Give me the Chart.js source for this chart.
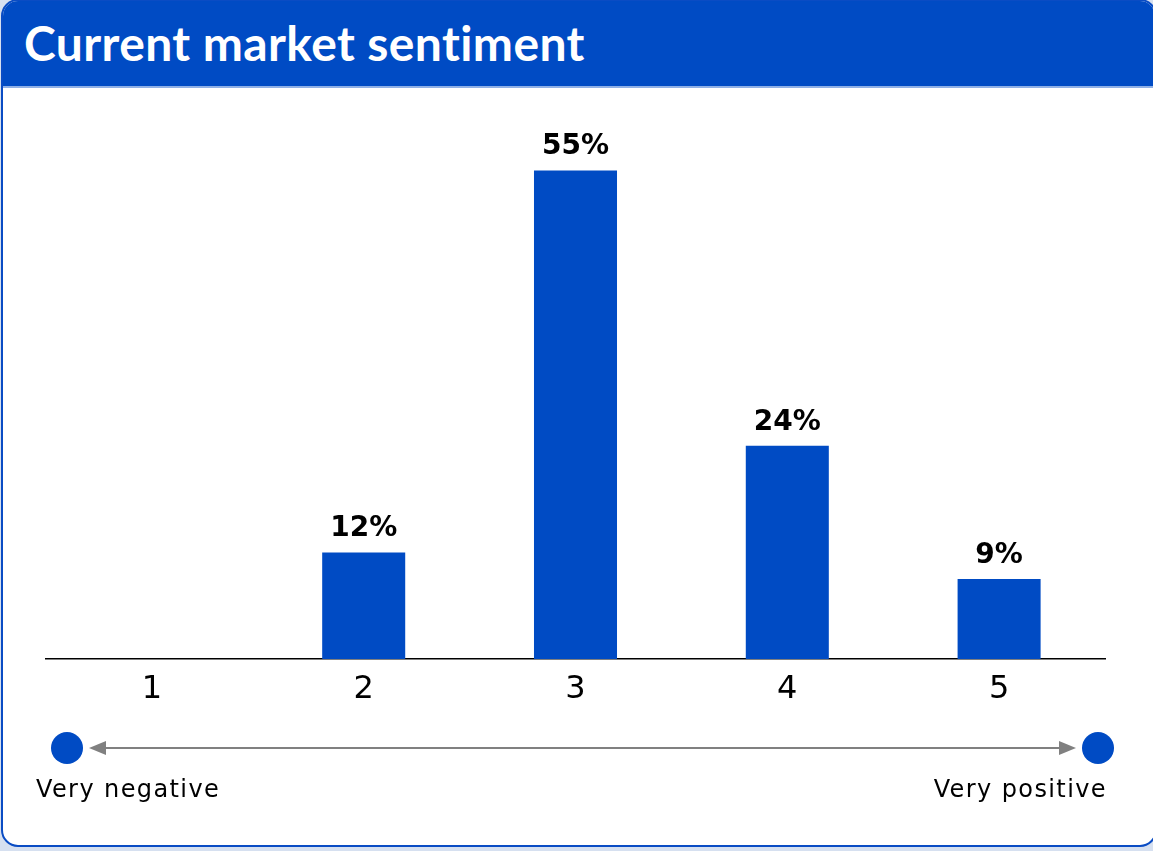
<!DOCTYPE html>
<html>
<head>
<meta charset="utf-8">
<script src="https://cdn.jsdelivr.net/npm/chart.js@4.4.1/dist/chart.umd.min.js"></script>
<style>
  html, body { margin: 0; padding: 0; background: #d6e0f0; }
  body { width: 1153px; height: 851px; position: relative; overflow: hidden; }
  .card {
    position: absolute; left: 1px; top: -1px; width: 1156px; height: 848px;
    box-sizing: border-box; border: 2px solid #0a4cc4; border-radius: 17px;
    background: #ffffff; overflow: hidden;
  }
  .card-head {
    position: absolute; left: 0; top: 0; right: 0; height: 87px;
    background: #004bc4; border-bottom: 2px solid #8fb0e6; box-sizing: border-box;
  }
  .card-head h1 {
    margin: 0; position: absolute; left: 21px; top: 18px;
    font-family: Lato, "Open Sans", sans-serif; font-weight: 700; font-size: 48px;
    color: #ffffff; letter-spacing: 0.4px; line-height: 1;
  }
  #wrap { position: absolute; left: 0; top: 0; width: 1153px; height: 851px; }
</style>
</head>
<body>
<div class="card"><div class="card-head"><h1>Current market sentiment</h1></div></div>
<div id="wrap"><canvas id="chart" width="1153" height="851"></canvas></div>
<script>
// Sentiment scale, 1 = very negative ... 5 = very positive
const categories = ['1', '2', '3', '4', '5'];
const shares = [0, 12, 55, 24, 9];          // % of respondents
const scaleEnds = ['Very negative', 'Very positive'];

const BLUE = '#004bc4';

// Percentage labels above each bar
const valueLabels = {
  id: 'valueLabels',
  afterDatasetsDraw(chart) {
    const { ctx } = chart;
    const meta = chart.getDatasetMeta(0);
    ctx.save();
    ctx.font = 'bold 28px "DejaVu Sans"';
    ctx.fillStyle = '#000';
    ctx.textAlign = 'center';
    ctx.textBaseline = 'alphabetic';
    meta.data.forEach((bar, i) => {
      const v = shares[i];
      if (!v) return;
      ctx.fillText(v + '%', bar.x, bar.y - 16);
    });
    ctx.restore();
  }
};

// Negative-to-positive arrow under the axis
const sentimentScale = {
  id: 'sentimentScale',
  afterDraw(chart) {
    const { ctx, chartArea } = chart;
    const y = 748;
    const lx = chartArea.left + 21, rx = chartArea.right - 7;
    ctx.save();
    ctx.strokeStyle = '#808080';
    ctx.fillStyle = '#808080';
    ctx.lineWidth = 2;
    ctx.beginPath();
    ctx.moveTo(lx + 30, y); ctx.lineTo(rx - 30, y);
    ctx.stroke();
    // arrow heads
    ctx.beginPath();
    ctx.moveTo(lx + 22, y); ctx.lineTo(lx + 39, y - 7); ctx.lineTo(lx + 39, y + 7); ctx.closePath();
    ctx.fill();
    ctx.beginPath();
    ctx.moveTo(rx - 22, y); ctx.lineTo(rx - 39, y - 7); ctx.lineTo(rx - 39, y + 7); ctx.closePath();
    ctx.fill();
    // end dots
    ctx.fillStyle = BLUE;
    ctx.beginPath(); ctx.arc(lx, y, 16, 0, Math.PI * 2); ctx.fill();
    ctx.beginPath(); ctx.arc(rx, y, 16, 0, Math.PI * 2); ctx.fill();
    // end captions
    ctx.fillStyle = '#000';
    ctx.font = '24px "DejaVu Sans"';
    if ('letterSpacing' in ctx) ctx.letterSpacing = '1.4px';
    ctx.textBaseline = 'alphabetic';
    ctx.textAlign = 'left';
    ctx.fillText(scaleEnds[0], 36, 797);
    ctx.textAlign = 'right';
    ctx.fillText(scaleEnds[1], 1107, 797);
    ctx.restore();
  }
};

new Chart(document.getElementById('chart'), {
  type: 'bar',
  data: {
    labels: categories,
    datasets: [{
      data: shares,
      backgroundColor: BLUE,
      borderWidth: 0,
      barPercentage: 0.392,
      categoryPercentage: 1
    }]
  },
  options: {
    responsive: false,
    animation: false,
    layout: { padding: { left: 46, right: 48, top: 126, bottom: 132 } },
    plugins: { legend: { display: false }, tooltip: { enabled: false } },
    scales: {
      x: {
        grid: { display: false, drawTicks: false },
        border: { display: true, color: '#000', width: 1.5 },
        ticks: { color: '#000', font: { family: 'DejaVu Sans', size: 32 }, padding: 11 },
        afterFit(scale) { scale.height = 60; }
      },
      y: {
        display: false,
        min: 0,
        max: 60
      }
    }
  },
  plugins: [valueLabels, sentimentScale]
});
</script>
</body>
</html>
